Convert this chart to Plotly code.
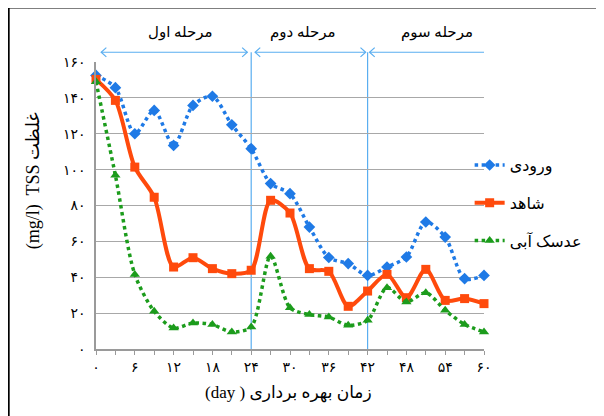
import plotly.graph_objects as go

days = [0, 3, 6, 9, 12, 15, 18, 21, 24, 27, 30, 33, 36, 39, 42, 45, 48, 51, 54, 57, 60]
inlet = [152.5, 145.7, 120, 133, 113.5, 135.8, 140.9, 125, 111.7, 92.2, 86.6, 68, 51, 47.6, 41, 45.7, 51.3, 70.8, 62.4, 39.2, 41]
control = [150.3, 138.6, 101.4, 84.6, 45.7, 50.9, 44.8, 42, 43.9, 82.9, 75.8, 44.8, 43.3, 23.8, 32.3, 41.6, 28.6, 44.4, 27.1, 28.1, 25.3]
duckweed = [149, 96.8, 41.6, 21, 11.7, 14.5, 13.6, 9.5, 12.3, 51.7, 23, 19.2, 17.8, 13.2, 16, 34.2, 26.2, 31.4, 21.6, 13.7, 9.5]

series_names = ["ورودی", "شاهد", "عدسک آبی"]
x_ticks = list(range(0, 61, 6))
y_ticks = list(range(0, 161, 20))
stage_labels = ["مرحله اول", "مرحله دوم", "مرحله سوم"]
stage_bounds = [0, 24, 42, 60]
stage_label_x = [13, 32, 52.7]

PD = str.maketrans("0123456789", "۰۱۲۳۴۵۶۷۸۹")
def fa(n):
    return str(n).translate(PD)

FONT = "Liberation Serif, Times New Roman, DejaVu Sans, serif"
BLUE = "#1f7ae6"
RED = "#ff4a0c"
GREEN = "#1c9c1c"
LBLUE = "#5aaef0"

fig = go.Figure()
fig.add_trace(go.Scatter(
    x=days, y=inlet, name=series_names[0], mode="lines+markers",
    line=dict(color=BLUE, width=3.5, dash="3.5px,3.5px", shape="spline", smoothing=0.8),
    marker=dict(symbol="diamond", size=9, color=BLUE),
    legendgroup="a", cliponaxis=False))
fig.add_trace(go.Scatter(
    x=days, y=control, name=series_names[1], mode="lines+markers",
    line=dict(color=RED, width=4, shape="spline", smoothing=0.8),
    marker=dict(symbol="square", size=9, color=RED),
    legendgroup="b", cliponaxis=False))
fig.add_trace(go.Scatter(
    x=days, y=duckweed, name=series_names[2], mode="lines+markers",
    line=dict(color=GREEN, width=3.5, dash="3.5px,3.5px", shape="spline", smoothing=0.8),
    marker=dict(symbol="triangle-up", size=9, color=GREEN),
    legendgroup="c", cliponaxis=False))

shapes = []
for xb in stage_bounds[1:-1]:
    shapes.append(dict(type="line", xref="x", yref="paper", x0=xb, x1=xb, y0=0, y1=1.034,
                       line=dict(color=LBLUE, width=1.2), layer="below"))
ay = 1.034
hx = 0.8
hy = 0.016
gaps = [(0.8, 23.4), (24.6, 41.7), (42.3, 60.9)]
for (a, b) in gaps:
    shapes.append(dict(type="line", xref="x", yref="paper", x0=a, x1=b, y0=ay, y1=ay,
                       line=dict(color=LBLUE, width=1.2)))
    shapes.append(dict(type="path", xref="x", yref="paper",
                       path=f"M {a+hx},{ay+hy} L {a},{ay} L {a+hx},{ay-hy}",
                       line=dict(color=LBLUE, width=1.2)))
    shapes.append(dict(type="path", xref="x", yref="paper",
                       path=f"M {b-hx},{ay+hy} L {b},{ay} L {b-hx},{ay-hy}",
                       line=dict(color=LBLUE, width=1.2)))
shapes.append(dict(type="rect", xref="paper", yref="paper", x0=-0.2257, x1=1.2955, y0=-0.35, y1=1.1906,
                   line=dict(color="black", width=2.5), layer="above"))

annotations = []
for lab, xl in zip(stage_labels, stage_label_x):
    annotations.append(dict(text=lab, x=xl, y=1.103, xref="x", yref="paper", showarrow=False,
                            xanchor="center", yanchor="middle",
                            font=dict(family=FONT, size=15, color="black")))
annotations.append(dict(text="(mg/l)  TSS غلظت", x=-0.162, y=0.585, xref="paper", yref="paper",
                        textangle=-90, showarrow=False, xanchor="center", yanchor="middle",
                        font=dict(family=FONT, size=18, color="black")))
annotations.append(dict(text="(day ) زمان بهره برداری", x=0.497, y=-0.154, xref="paper", yref="paper",
                        showarrow=False, xanchor="center", yanchor="middle",
                        font=dict(family=FONT, size=17, color="black")))

# page body has an 8px margin: compensate so the plot area lands where the reference has it
fig.update_layout(
    width=596, height=408,
    margin=dict(l=87.7, r=119.7, t=53.7, b=67.3, autoexpand=False),
    paper_bgcolor="white", plot_bgcolor="white",
    showlegend=True,
    legend=dict(x=0.963, y=0.70, xanchor="left", yanchor="top", tracegroupgap=14,
                font=dict(family=FONT, size=16, color="black"), bgcolor="rgba(0,0,0,0)",
                itemwidth=30),
    shapes=shapes, annotations=annotations,
    xaxis=dict(range=[0, 60], tickvals=x_ticks, ticktext=[fa(v) for v in x_ticks],
               showgrid=False, zeroline=False, showline=True, linecolor="#9a9a9a", linewidth=1.5,
               ticks="outside", ticklen=4, tickcolor="#9a9a9a",
               minor=dict(dtick=3, ticks="outside", ticklen=4, tickcolor="#9a9a9a", showgrid=False),
               tickfont=dict(family=FONT, size=14, color="black")),
    yaxis=dict(range=[0, 160], tickvals=y_ticks, ticktext=[fa(v) for v in y_ticks],
               showgrid=True, gridcolor="#a8a8a8", gridwidth=1.3, zeroline=False,
               showline=True, linecolor="#9a9a9a", linewidth=1.5,
               ticks="outside", ticklen=6, tickcolor="rgba(0,0,0,0)",
               tickfont=dict(family=FONT, size=14, color="black")),
)

fig.write_html("out.html")
